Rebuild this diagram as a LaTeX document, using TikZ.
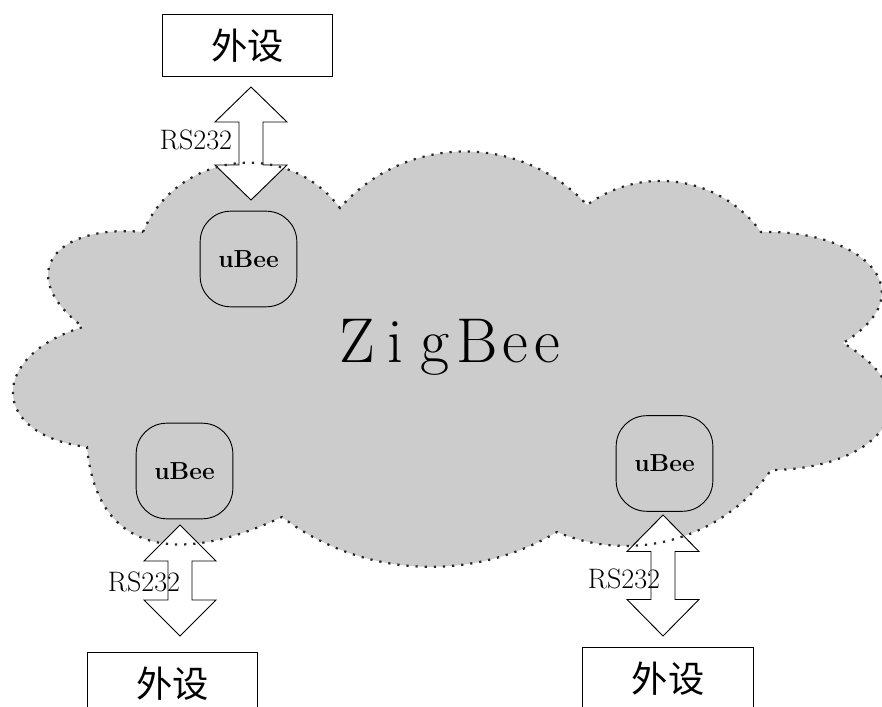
\documentclass[tikz,border=0pt]{standalone}
\usepackage{fontspec}
\newfontfamily\cjk{Noto Sans CJK SC}
\definecolor{cloudgray}{RGB}{204,204,204}
\tikzset{
  devbox/.style={draw, line width=0.9pt, minimum width=145.4pt, minimum height=53.6pt,
    inner sep=0pt, font=\cjk\fontsize{31}{35}\selectfont},
  ubee/.style={draw, line width=0.8pt, minimum width=82.5pt, minimum height=81.6pt,
    rounded corners=26pt, inner sep=0pt, font=\bfseries\fontsize{21}{24}\selectfont},
  rslabel/.style={anchor=base, inner sep=0pt, font=\fontsize{24}{28}\selectfont},
  arrowbox/.style={draw, fill=white, line width=0.8pt, line join=miter},
  cloudline/.style={draw=black!85, line width=1.9pt, dash pattern=on 1.9pt off 5.9pt},
  pics/udarrow/.style args={#1/#2}{code={
    \path[arrowbox] (0,-#1) -- (36,-#2) -- (12,-#2) -- (12,#2) -- (36,#2) -- (0,#1)
      -- (-36,#2) -- (-12,#2) -- (-12,-#2) -- (-36,-#2) -- cycle;
  }}
}
\newcommand\cloudpath{(c1) to[bend left=60, looseness=1.13] (c2)
  to[bend left=48, looseness=1.02] (c3)
  to[bend left=45, looseness=1.0] (c4)
  to[out=55, in=85, relative, looseness=1.85] (c5)
  to[out=89, in=120, relative, looseness=1.92] (c6)
  to[bend left=39, looseness=0.96] (c7)
  to[bend left=34, looseness=0.93] (c8)
  to[out=45, in=115, relative, looseness=1.36] (c9)
  to[out=81, in=105, relative, looseness=2.1] (c10)
  to[out=85, in=117, relative, looseness=2.0] (c1) -- cycle}
\begin{document}
\begin{tikzpicture}[x=0.03cm, y=-0.03cm]
\fill[white] (0,0) rectangle (882,707);
\useasboundingbox (0,0) rectangle (882,707);
% cloud cusps
\coordinate (c1) at (143,232);
\coordinate (c2) at (340,208);
\coordinate (c3) at (587,205);
\coordinate (c4) at (761,232);
\coordinate (c5) at (843,343);
\coordinate (c6) at (771,470);
\coordinate (c7) at (557,532);
\coordinate (c8) at (282,517);
\coordinate (c9) at (87,447);
\coordinate (c10) at (83,327);
\fill[cloudgray] \cloudpath;
% block arrows
\pic at (251,143.5) {udarrow=56.5/21.5};
\pic at (180,580.5) {udarrow=55.5/19.5};
\pic at (663,575.5) {udarrow=60.5/24};
\path[cloudline] \cloudpath;
% uBee nodes
\node[ubee] (u1) at (248.5,259) {uBee};
\node[ubee] (u2) at (184.5,471) {uBee};
\node[ubee] (u3) at (664.5,463.5) {uBee};
% peripheral boxes
\node[devbox] (d1) at (247.5,45.5) {外设};
\node[devbox] (d2) at (172.5,683.5) {外设};
\node[devbox] (d3) at (668,678.5) {外设};
% labels
\node[rslabel] (r1) at (196,150) {RS232};
\node[rslabel] (r2) at (144,591) {RS232};
\node[rslabel] (r3) at (624,588) {RS232};
\node[anchor=base west, inner sep=0pt, font=\fontsize{54}{60}\selectfont] (zb) at (338,363)
  {\makebox[32.3pt]{Z}\makebox[33.2pt]{i}\makebox[34.9pt]{g}\makebox[35.7pt]{B}\makebox[30.6pt]{e}\makebox[23.8pt]{e}};
\end{tikzpicture}
\end{document}
